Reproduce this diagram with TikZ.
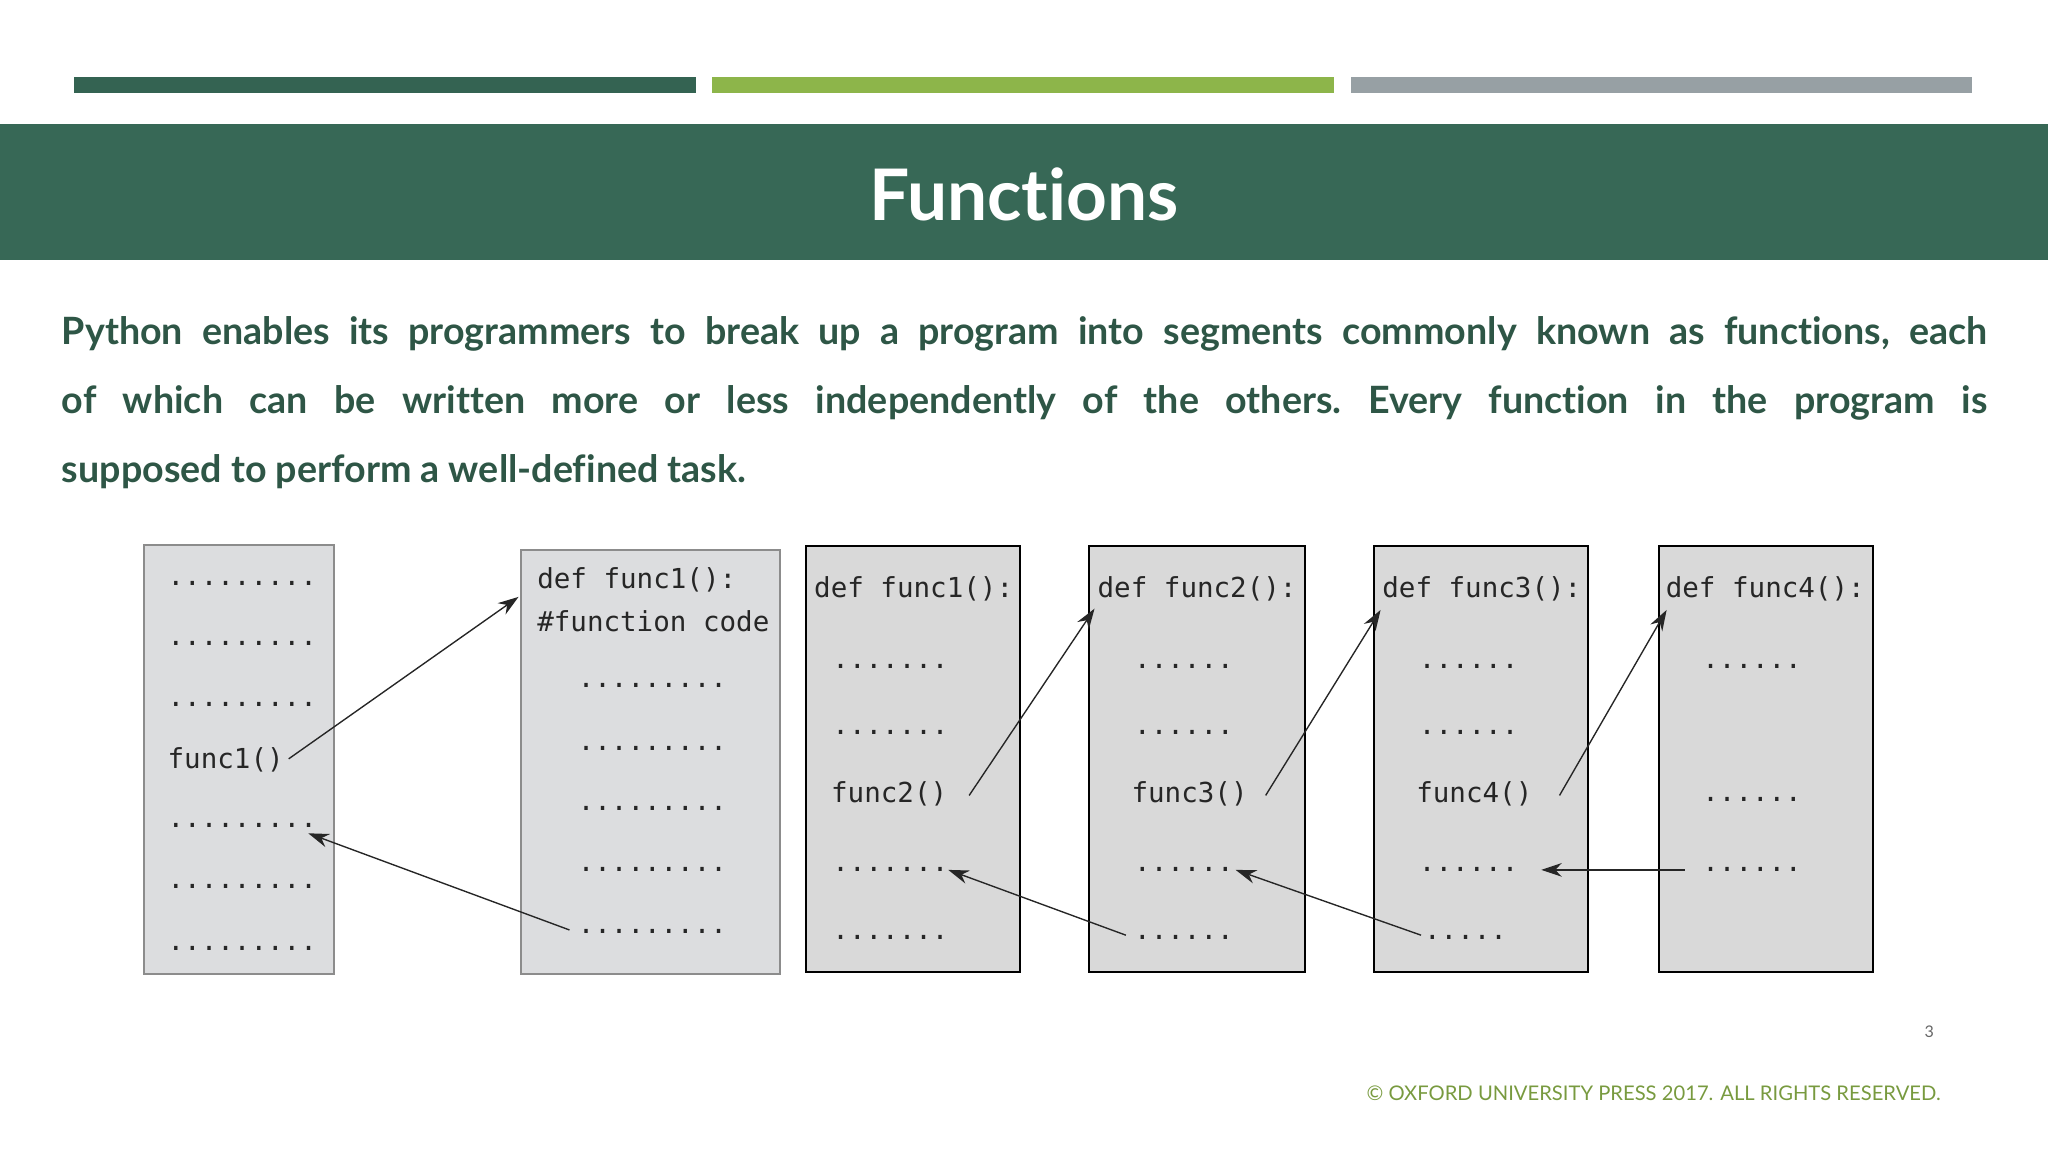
\documentclass[tikz,border=0pt]{standalone}
\usepackage{fontspec}
\setmainfont[Ligatures={NoCommon,NoRare,NoDiscretionary}]{Lato}
\setmonofont{DejaVu Sans Mono}
\usetikzlibrary{arrows.meta}
\definecolor{dk}{HTML}{376856}
\definecolor{txt}{HTML}{2E5646}
\definecolor{gr}{HTML}{8DB54A}
\definecolor{gy}{HTML}{97A0A4}
\definecolor{boxa}{HTML}{DCDDDF}
\definecolor{boxb}{HTML}{D9D9D9}
\tikzset{
 code/.style={anchor=west,inner sep=0pt,font=\ttfamily\fontsize{12}{12}\selectfont,text=black!85},
 codebox/.style={draw=black,line width=1pt,fill=boxb},
 oldbox/.style={draw=black!45,line width=0.8pt,fill=boxa},
 conn/.style={-{Stealth[length=9pt,width=6pt]},line width=0.6pt,black!85}
}
\begin{document}
\begin{tikzpicture}[x=0.02cm,y=-0.02cm]
\useasboundingbox (0,0) rectangle (1568,882);
\fill[dk!95!black] (57,59) rectangle (533,71);
\fill[gr] (545,59) rectangle (1021,71);
\fill[gy] (1034,59) rectangle (1510,71);
\fill[dk] (0,95) rectangle (1568,199);
\node[text=white,font=\bfseries\fontsize{31}{31}\selectfont] (title) at (784,149) {Functions};
\node[anchor=north west,inner sep=0pt,text=txt,font=\bfseries\fontsize{16.4}{30.1}\selectfont,text width=1474*0.02cm,align=justify] (body) at (47,242)
{\frenchspacing Python enables its programmers to break up a program into segments commonly known as functions, each\linebreak of which can be written more or less independently of the others. Every function in the program is\linebreak supposed to perform a well-defined task.};
% boxes
\draw[oldbox] (110,417) rectangle (256,746);
\draw[oldbox] (399,421) rectangle (597,746);
\draw[codebox] (617,418) rectangle (781,744);
\draw[codebox] (834,418) rectangle (999,744);
\draw[codebox] (1052,418) rectangle (1216,744);
\draw[codebox] (1270,418) rectangle (1434,744);
% box1
\node[code] (a1) at (128,447) {.........};
\node[code] (a2) at (128,493) {.........};
\node[code] (a3) at (128,539) {.........};
\node[code] (af) at (128,582) {func1()};
\node[code] (a5) at (128,632) {.........};
\node[code] (a6) at (128,679) {.........};
\node[code] (a7) at (128,726) {.........};
% box2
\node[code] (b1) at (411,444) {def func1():};
\node[code] (b2) at (411,476) {\#function code};
\node[code] (b3) at (442,525) {.........};
\node[code] (b4) at (442,573) {.........};
\node[code] (b5) at (442,619) {.........};
\node[code] (b6) at (442,666) {.........};
\node[code] (b7) at (442,713) {.........};
% box3
\node[code] (c1) at (623,451) {def func1():};
\node[code] (c2) at (637,510) {.......};
\node[code] (c3) at (637,561) {.......};
\node[code] (cf) at (636,608) {func2()};
\node[code] (c5) at (637,666) {.......};
\node[code] (c6) at (637,718) {.......};
% box4
\node[code] (d1) at (840,451) {def func2():};
\node[code] (d2) at (868,510) {......};
\node[code] (d3) at (868,561) {......};
\node[code] (df) at (866,608) {func3()};
\node[code] (d5) at (868,666) {......};
\node[code] (d6) at (868,718) {......};
% box5
\node[code] (e1) at (1058,451) {def func3():};
\node[code] (e2) at (1086,510) {......};
\node[code] (e3) at (1086,561) {......};
\node[code] (ef) at (1084,608) {func4()};
\node[code] (e5) at (1086,666) {......};
\node[code] (e6) at (1090,718) {.....};
% box6
\node[code] (g1) at (1275,451) {def func4():};
\node[code] (g2) at (1303,510) {......};
\node[code] (g3) at (1303,612) {......};
\node[code] (g5) at (1303,666) {......};
% connector coordinates
\coordinate (p1) at (221,581); \coordinate (q1) at (397,457);
\coordinate (p2) at (436,712); \coordinate (q2) at (236,638);
\coordinate (p3) at (742,609); \coordinate (q3) at (838,466);
\coordinate (p4) at (862,716); \coordinate (q4) at (726,666);
\coordinate (p5) at (969,609); \coordinate (q5) at (1057,467);
\coordinate (p6) at (1088,716); \coordinate (q6) at (946,666);
\coordinate (p7) at (1194,609); \coordinate (q7) at (1276,467);
\coordinate (p8) at (1290,666); \coordinate (q8) at (1180,666);
\foreach \i in {1,...,8} \draw[conn] (p\i) -- (q\i);
\node[text=black!60,font=\fontsize{7}{7}\selectfont] (pg) at (1477,790) {3};
\node[anchor=east,inner sep=0pt,text=gr!85!black,font=\fontsize{8.8}{10}\selectfont] (copy) at (1486,837) {© OXFORD UNIVERSITY PRESS 2017. ALL RIGHTS RESERVED.};
\end{tikzpicture}
\end{document}
